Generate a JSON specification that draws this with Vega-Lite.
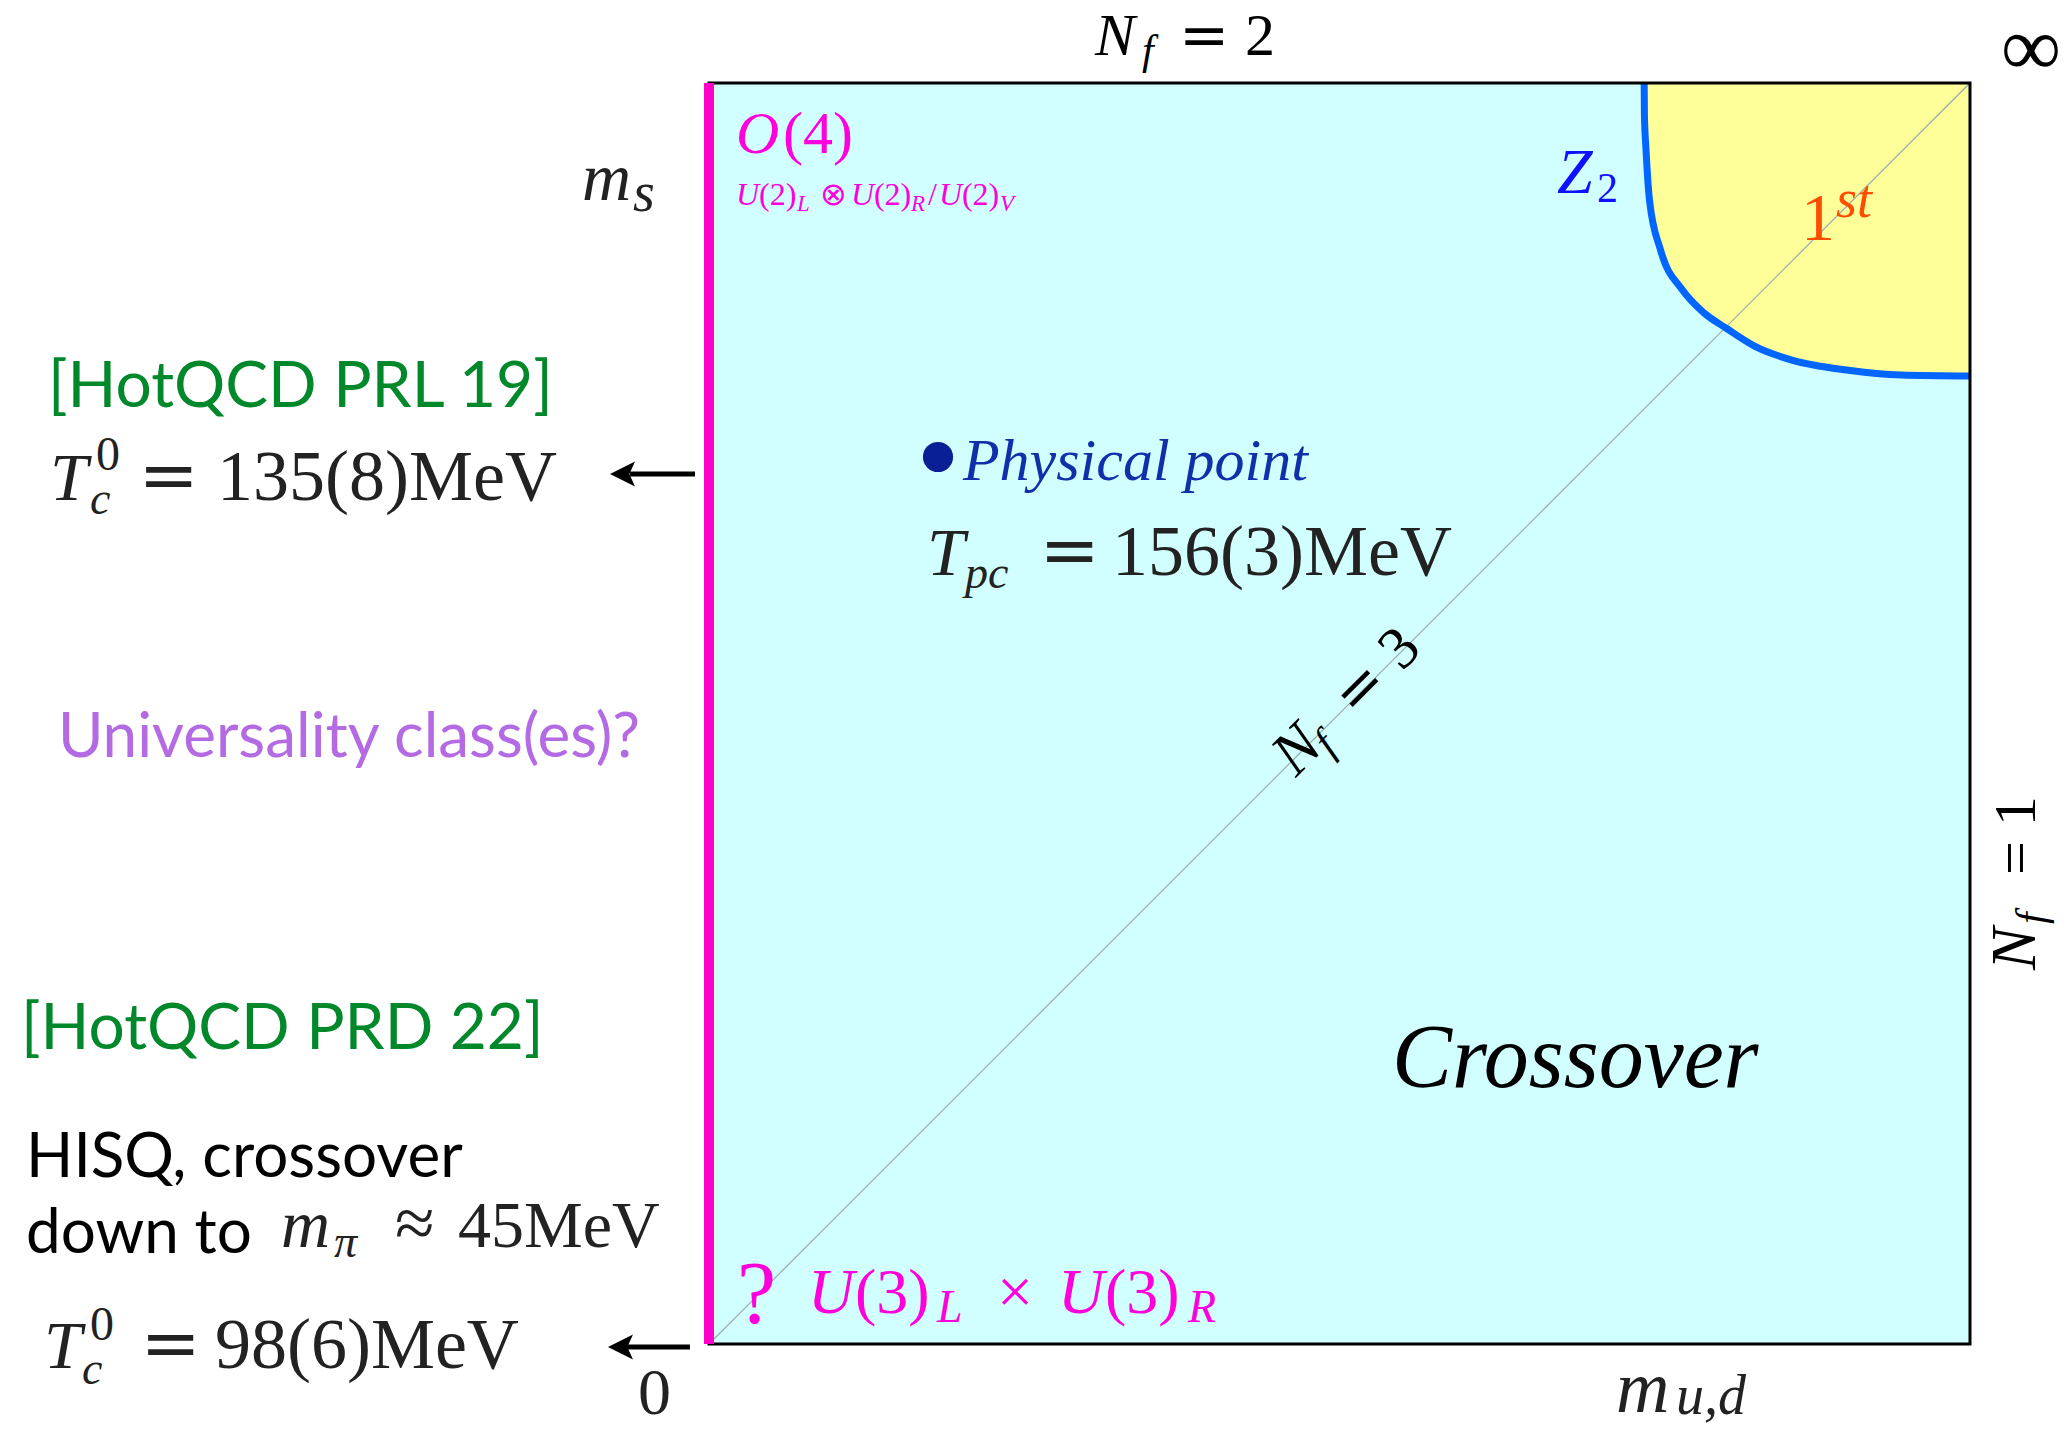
{
  "$schema": "https://vega.github.io/schema/vega-lite/v6.json",
  "width": 1261,
  "height": 1261,
  "autosize": {"type": "none"},
  "padding": {"left": 709, "top": 83, "right": 102, "bottom": 85},
  "background": "white",
  "config": {"view": {"fill": "#d1ffff", "stroke": null}},
  "encoding": {
    "x": {"field": "x", "type": "quantitative", "scale": {"domain": [0, 1], "nice": false, "zero": false}, "axis": null},
    "y": {"field": "y", "type": "quantitative", "scale": {"domain": [0, 1], "nice": false, "zero": false}, "axis": null}
  },
  "layer": [
    {
      "data": {"name": "z2line", "values": [
        {"x": 0.7416, "y": 1.0}, {"x": 0.7418, "y": 0.975}, {"x": 0.7431, "y": 0.9469},
        {"x": 0.7459, "y": 0.9065}, {"x": 0.7546, "y": 0.8676}, {"x": 0.772, "y": 0.8358},
        {"x": 0.7894, "y": 0.8174}, {"x": 0.8067, "y": 0.8055}, {"x": 0.8299, "y": 0.7909},
        {"x": 0.8588, "y": 0.7803}, {"x": 0.9022, "y": 0.7724}, {"x": 0.9457, "y": 0.7684},
        {"x": 1.0, "y": 0.7676}
      ]},
      "mark": {"type": "area", "color": "#ffff99", "interpolate": "monotone"},
      "encoding": {"y2": {"datum": 1}}
    },
    {
      "data": {"values": [{"x": 0, "y": 0, "x2": 1, "y2": 1}]},
      "mark": {"type": "rule", "color": "#98aaaa", "strokeWidth": 1.2},
      "encoding": {"x2": {"field": "x2"}, "y2": {"field": "y2"}}
    },
    {
      "data": {"name": "z2line"},
      "mark": {"type": "line", "color": "#0066ff", "strokeWidth": 7, "interpolate": "monotone"},
      "encoding": {}
    },
    {
      "data": {"values": [{"x": 0, "y": 0, "x2": 1, "y2": 1}]},
      "mark": {"type": "rect", "fill": "white", "fillOpacity": 0, "stroke": "black", "strokeWidth": 3},
      "encoding": {"x2": {"field": "x2"}, "y2": {"field": "y2"}}
    },
    {
      "data": {"values": [{"x": 0, "y": 0, "y2": 1}]},
      "mark": {"type": "rule", "color": "#ff00cc", "strokeWidth": 10, "strokeCap": "butt"},
      "encoding": {"y2": {"field": "y2"}}
    },
    {
      "data": {"values": [{"x": -0.0626, "x2": -0.0111, "y": 0.6899}, {"x": -0.0658, "x2": -0.0151, "y": -0.0024}]},
      "mark": {"type": "rule", "color": "black", "strokeWidth": 5, "strokeCap": "butt"},
      "encoding": {"x2": {"field": "x2"}}
    },
    {
      "data": {"values": [{"x": -0.0686, "y": 0.6899}, {"x": -0.0702, "y": -0.0024}]},
      "mark": {"type": "point", "shape": "M-1,0L1,-1L0.55,0L1,1Z", "size": 625, "filled": true, "color": "black", "opacity": 1, "strokeWidth": 0},
      "encoding": {}
    },
    {
      "data": {"values": [{"x": 0.1816, "y": 0.7034}]},
      "mark": {"type": "point", "shape": "circle", "size": 908, "filled": true, "color": "#0a1e96", "opacity": 1, "strokeWidth": 0},
      "encoding": {}
    },
    {
      "data": {"values": [{"t": "N", "x": 0.3061, "y": 1.0222}]},
      "mark": {"type": "text", "font": "Liberation Serif", "fontStyle": "italic", "fontSize": 60, "color": "black", "align": "left", "baseline": "alphabetic"},
      "encoding": {"text": {"field": "t"}}
    },
    {
      "data": {"values": [{"t": "2", "x": 0.4251, "y": 1.0222}]},
      "mark": {"type": "text", "font": "Liberation Serif", "fontSize": 60, "color": "black", "align": "left", "baseline": "alphabetic"},
      "encoding": {"text": {"field": "t"}}
    },
    {
      "data": {"values": [{"t": "=", "x": 0.3727, "y": 1.0222}]},
      "mark": {"type": "text", "font": "DejaVu Serif", "fontSize": 60, "color": "black", "align": "left", "baseline": "alphabetic"},
      "encoding": {"text": {"field": "t"}}
    },
    {
      "data": {"values": [{"t": "f", "x": 0.3434, "y": 1.0151}]},
      "mark": {"type": "text", "font": "Liberation Serif", "fontStyle": "italic", "fontSize": 42, "color": "black", "align": "left", "baseline": "alphabetic"},
      "encoding": {"text": {"field": "t"}}
    },
    {
      "data": {"values": [{"t": "∞", "x": 1.0484, "y": 1.0063}]},
      "mark": {"type": "text", "font": "Liberation Serif", "fontSize": 84, "color": "black", "align": "center", "baseline": "alphabetic"},
      "encoding": {"text": {"field": "t"}}
    },
    {
      "data": {"values": [
        {"t": "T", "x": -0.5226, "y": 0.6693},
        {"t": "T", "x": -0.5274, "y": -0.019},
        {"t": "T", "x": 0.1729, "y": 0.6098},
        {"t": "m", "x": -0.1007, "y": 0.9072},
        {"t": "m", "x": -0.3394, "y": 0.0769}
      ]},
      "mark": {"type": "text", "font": "Liberation Serif", "fontStyle": "italic", "fontSize": 68, "color": "#222222", "align": "left", "baseline": "alphabetic"},
      "encoding": {"text": {"field": "t"}}
    },
    {
      "data": {"values": [{"t": "m", "x": 0.7193, "y": -0.0539}]},
      "mark": {"type": "text", "font": "Liberation Serif", "fontStyle": "italic", "fontSize": 74, "color": "#222222", "align": "left", "baseline": "alphabetic"},
      "encoding": {"text": {"field": "t"}}
    },
    {
      "data": {"values": [
        {"t": "c", "x": -0.4909, "y": 0.6582},
        {"t": "c", "x": -0.4972, "y": -0.0317},
        {"t": "pc", "x": 0.203, "y": 0.5995},
        {"t": "π", "x": -0.2974, "y": 0.069}
      ]},
      "mark": {"type": "text", "font": "Liberation Serif", "fontStyle": "italic", "fontSize": 46, "color": "#222222", "align": "left", "baseline": "alphabetic"},
      "encoding": {"text": {"field": "t"}}
    },
    {
      "data": {"values": [
        {"t": "s", "x": -0.0603, "y": 0.8985}
      ]},
      "mark": {"type": "text", "font": "Liberation Serif", "fontStyle": "italic", "fontSize": 56, "color": "#222222", "align": "left", "baseline": "alphabetic"},
      "encoding": {"text": {"field": "t"}}
    },
    {
      "data": {"values": [
        {"t": "u,d", "x": 0.7668, "y": -0.0555}
      ]},
      "mark": {"type": "text", "font": "Liberation Serif", "fontStyle": "italic", "fontSize": 56, "color": "#222222", "align": "left", "baseline": "alphabetic"},
      "encoding": {"text": {"field": "t"}}
    },
    {
      "data": {"values": [
        {"t": "0", "x": -0.4861, "y": 0.6931},
        {"t": "0", "x": -0.4909, "y": 0.0032}
      ]},
      "mark": {"type": "text", "font": "Liberation Serif", "fontSize": 48, "color": "#222222", "align": "left", "baseline": "alphabetic"},
      "encoding": {"text": {"field": "t"}}
    },
    {
      "data": {"values": [
        {"t": "135(8)MeV", "x": -0.3902, "y": 0.6693},
        {"t": "98(6)MeV", "x": -0.3918, "y": -0.019},
        {"t": "156(3)MeV", "x": 0.3196, "y": 0.6098},
        {"t": "≈", "x": -0.249, "y": 0.0769}
      ]},
      "mark": {"type": "text", "font": "Liberation Serif", "fontSize": 72, "color": "#222222", "align": "left", "baseline": "alphabetic"},
      "encoding": {"text": {"field": "t"}}
    },
    {
      "data": {"values": [
        {"t": "=", "x": -0.4524, "y": 0.6693},
        {"t": "=", "x": -0.4508, "y": -0.019},
        {"t": "=", "x": 0.2621, "y": 0.6098}
      ]},
      "mark": {"type": "text", "font": "DejaVu Serif", "fontSize": 72, "color": "#222222", "align": "left", "baseline": "alphabetic"},
      "encoding": {"text": {"field": "t"}}
    },
    {
      "data": {"values": [
        {"t": "45MeV", "x": -0.199, "y": 0.0769},
        {"t": "0", "x": -0.0563, "y": -0.0555}
      ]},
      "mark": {"type": "text", "font": "Liberation Serif", "fontSize": 66, "color": "#222222", "align": "left", "baseline": "alphabetic"},
      "encoding": {"text": {"field": "t"}}
    },
    {
      "data": {"values": [{"t": "Crossover", "x": 0.5416, "y": 0.2038}]},
      "mark": {"type": "text", "font": "Liberation Serif", "fontStyle": "italic", "fontSize": 90, "color": "black", "align": "left", "baseline": "alphabetic"},
      "encoding": {"text": {"field": "t"}}
    },
    {
      "data": {"values": [{"t": "N", "x": 1.0515, "y": 0.2966}]},
      "mark": {"type": "text", "angle": -90, "font": "Liberation Serif", "fontStyle": "italic", "fontSize": 64, "color": "black", "align": "left", "baseline": "alphabetic"},
      "encoding": {"text": {"field": "t"}}
    },
    {
      "data": {"values": [{"t": "f", "x": 1.0595, "y": 0.3331}]},
      "mark": {"type": "text", "angle": -90, "font": "Liberation Serif", "fontStyle": "italic", "fontSize": 42, "color": "black", "align": "left", "baseline": "alphabetic"},
      "encoding": {"text": {"field": "t"}}
    },
    {
      "data": {"values": [{"t": "= 1", "x": 1.0515, "y": 0.3719}]},
      "mark": {"type": "text", "angle": -90, "font": "Liberation Serif", "fontSize": 60, "color": "black", "align": "left", "baseline": "alphabetic"},
      "encoding": {"text": {"field": "t"}}
    },
    {
      "data": {"values": [{"t": "N", "x": 0.4655, "y": 0.4488}]},
      "mark": {"type": "text", "angle": -45, "font": "Liberation Serif", "fontStyle": "italic", "fontSize": 62, "color": "black", "align": "left", "baseline": "alphabetic"},
      "encoding": {"text": {"field": "t"}}
    },
    {
      "data": {"values": [{"t": "f", "x": 0.4929, "y": 0.4652}]},
      "mark": {"type": "text", "angle": -45, "font": "Liberation Serif", "fontStyle": "italic", "fontSize": 42, "color": "black", "align": "left", "baseline": "alphabetic"},
      "encoding": {"text": {"field": "t"}}
    },
    {
      "data": {"values": [{"t": "3", "x": 0.5496, "y": 0.5329}]},
      "mark": {"type": "text", "angle": -45, "font": "Liberation Serif", "fontSize": 60, "color": "black", "align": "left", "baseline": "alphabetic"},
      "encoding": {"text": {"field": "t"}}
    },
    {
      "data": {"values": [{"t": "=", "x": 0.5126, "y": 0.496}]},
      "mark": {"type": "text", "angle": -45, "font": "DejaVu Serif", "fontSize": 58, "color": "black", "align": "left", "baseline": "alphabetic"},
      "encoding": {"text": {"field": "t"}}
    },
    {
      "data": {"values": [{"t": "Z", "x": 0.6725, "y": 0.9128}]},
      "mark": {"type": "text", "font": "Liberation Serif", "fontStyle": "italic", "fontSize": 64, "color": "#1010ff", "align": "left", "baseline": "alphabetic"},
      "encoding": {"text": {"field": "t"}}
    },
    {
      "data": {"values": [{"t": "2", "x": 0.7042, "y": 0.9056}]},
      "mark": {"type": "text", "font": "Liberation Serif", "fontSize": 42, "color": "#1010ff", "align": "left", "baseline": "alphabetic"},
      "encoding": {"text": {"field": "t"}}
    },
    {
      "data": {"values": [{"t": "1", "x": 0.866, "y": 0.8755}]},
      "mark": {"type": "text", "font": "Liberation Serif", "fontSize": 68, "color": "#ff4d00", "align": "left", "baseline": "alphabetic"},
      "encoding": {"text": {"field": "t"}}
    },
    {
      "data": {"values": [{"t": "st", "x": 0.8937, "y": 0.8937}]},
      "mark": {"type": "text", "font": "Liberation Serif", "fontStyle": "italic", "fontSize": 54, "color": "#ff4d00", "align": "left", "baseline": "alphabetic"},
      "encoding": {"text": {"field": "t"}}
    },
    {
      "data": {"values": [{"t": "O", "x": 0.0214, "y": 0.9445}]},
      "mark": {"type": "text", "font": "Liberation Serif", "fontStyle": "italic", "fontSize": 60, "color": "#ff00dd", "align": "left", "baseline": "alphabetic"},
      "encoding": {"text": {"field": "t"}}
    },
    {
      "data": {"values": [{"t": "(4)", "x": 0.0587, "y": 0.9445}]},
      "mark": {"type": "text", "font": "Liberation Serif", "fontSize": 60, "color": "#ff00dd", "align": "left", "baseline": "alphabetic"},
      "encoding": {"text": {"field": "t"}}
    },
    {
      "data": {"values": [
        {"t": "U", "x": 0.0214, "y": 0.9032},
        {"t": "U", "x": 0.1126, "y": 0.9032},
        {"t": "U", "x": 0.1824, "y": 0.9032}
      ]},
      "mark": {"type": "text", "font": "Liberation Serif", "fontStyle": "italic", "fontSize": 32, "color": "#ff00dd", "align": "left", "baseline": "alphabetic"},
      "encoding": {"text": {"field": "t"}}
    },
    {
      "data": {"values": [
        {"t": "(2)", "x": 0.0397, "y": 0.9032},
        {"t": "⊗", "x": 0.088, "y": 0.9032},
        {"t": "(2)", "x": 0.1308, "y": 0.9032},
        {"t": "/", "x": 0.1737, "y": 0.9032},
        {"t": "(2)", "x": 0.2006, "y": 0.9032}
      ]},
      "mark": {"type": "text", "font": "Liberation Serif", "fontSize": 32, "color": "#ff00dd", "align": "left", "baseline": "alphabetic"},
      "encoding": {"text": {"field": "t"}}
    },
    {
      "data": {"values": [
        {"t": "L", "x": 0.0698, "y": 0.8985},
        {"t": "R", "x": 0.1602, "y": 0.8985},
        {"t": "V", "x": 0.2308, "y": 0.8985}
      ]},
      "mark": {"type": "text", "font": "Liberation Serif", "fontStyle": "italic", "fontSize": 23, "color": "#ff00dd", "align": "left", "baseline": "alphabetic"},
      "encoding": {"text": {"field": "t"}}
    },
    {
      "data": {"values": [{"t": "?", "x": 0.0222, "y": 0.0174}]},
      "mark": {"type": "text", "font": "Liberation Serif", "fontSize": 88, "color": "#ff00dd", "align": "left", "baseline": "alphabetic"},
      "encoding": {"text": {"field": "t"}}
    },
    {
      "data": {"values": [
        {"t": "U", "x": 0.0785, "y": 0.0246},
        {"t": "U", "x": 0.2768, "y": 0.0246}
      ]},
      "mark": {"type": "text", "font": "Liberation Serif", "fontStyle": "italic", "fontSize": 64, "color": "#ff00dd", "align": "left", "baseline": "alphabetic"},
      "encoding": {"text": {"field": "t"}}
    },
    {
      "data": {"values": [
        {"t": "(3)", "x": 0.1158, "y": 0.0246},
        {"t": "×", "x": 0.2284, "y": 0.0246},
        {"t": "(3)", "x": 0.314, "y": 0.0246}
      ]},
      "mark": {"type": "text", "font": "Liberation Serif", "fontSize": 64, "color": "#ff00dd", "align": "left", "baseline": "alphabetic"},
      "encoding": {"text": {"field": "t"}}
    },
    {
      "data": {"values": [
        {"t": "L", "x": 0.1808, "y": 0.0174},
        {"t": "R", "x": 0.3798, "y": 0.0174}
      ]},
      "mark": {"type": "text", "font": "Liberation Serif", "fontStyle": "italic", "fontSize": 46, "color": "#ff00dd", "align": "left", "baseline": "alphabetic"},
      "encoding": {"text": {"field": "t"}}
    },
    {
      "data": {"values": [{"t": "Physical point", "x": 0.2014, "y": 0.6852}]},
      "mark": {"type": "text", "font": "Liberation Serif", "fontStyle": "italic", "fontSize": 60, "color": "#1030aa", "align": "left", "baseline": "alphabetic"},
      "encoding": {"text": {"field": "t"}}
    },
    {
      "data": {"values": [
        {"t": "[HotQCD PRL 19]", "x": -0.5242, "y": 0.7431},
        {"t": "[HotQCD PRD 22]", "x": -0.5456, "y": 0.2339}
      ]},
      "mark": {"type": "text", "font": "Lato", "fontSize": 64, "color": "#00882b", "align": "left", "baseline": "alphabetic"},
      "encoding": {"text": {"field": "t"}}
    },
    {
      "data": {"values": [{"t": "Universality class(es)?", "x": -0.5163, "y": 0.4655}]},
      "mark": {"type": "text", "font": "Lato", "fontSize": 62, "color": "#b36ae2", "align": "left", "baseline": "alphabetic"},
      "encoding": {"text": {"field": "t"}}
    },
    {
      "data": {"values": [
        {"t": "HISQ, crossover", "x": -0.5416, "y": 0.1324},
        {"t": "down to", "x": -0.5416, "y": 0.0722}
      ]},
      "mark": {"type": "text", "font": "Lato", "fontSize": 62, "color": "black", "align": "left", "baseline": "alphabetic"},
      "encoding": {"text": {"field": "t"}}
    }
  ]
}
